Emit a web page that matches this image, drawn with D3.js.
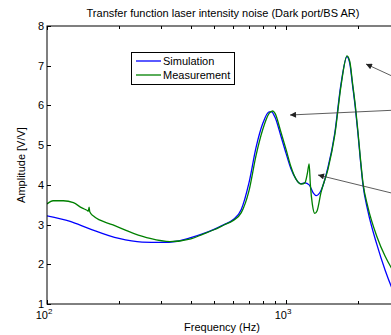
<!DOCTYPE html>
<html>
<head>
<meta charset="utf-8">
<script src="https://cdn.jsdelivr.net/npm/d3@7"></script>
<style>
  body { margin: 0; background: #fff; }
  svg { display: block; font-family: Arial, "Liberation Sans", sans-serif; }
</style>
</head>
<body>
<svg id="chart" width="391" height="335"></svg>
<script>
// values
const simFreq = [100, 125, 150, 200, 250, 300, 350, 400, 450, 500, 550, 600, 650, 700, 750, 800, 850, 870, 900, 950, 1000, 1050, 1100, 1150, 1200, 1250, 1300, 1340, 1400, 1500, 1600, 1700, 1800, 1850, 1900, 1950, 2000, 2050, 2100, 2200, 2400, 2600, 2800, 3000];
const simAmp  = [3.22, 3.08, 2.90, 2.65, 2.56, 2.55, 2.58, 2.67, 2.77, 2.88, 3.00, 3.12, 3.38, 4.05, 4.95, 5.55, 5.84, 5.84, 5.7, 5.25, 4.8, 4.4, 4.15, 4.03, 4.05, 4.0, 3.8, 3.73, 3.85, 4.45, 5.3, 6.55, 7.23, 7.05, 6.5, 5.95, 5.3, 4.6, 4.0, 3.35, 2.5, 1.85, 1.35, 1.0];

const measFreq = [100, 106, 117, 129, 140, 147, 149, 150, 151, 156, 189, 230, 270, 327, 400, 450, 500, 550, 600, 650, 700, 750, 800, 850, 880, 900, 950, 1000, 1050, 1100, 1160, 1200, 1230, 1250, 1265, 1290, 1320, 1350, 1400, 1500, 1600, 1700, 1800, 1850, 1900, 1950, 2000, 2050, 2100, 2200, 2400, 2600, 2800, 3000];
const measAmp  = [3.52, 3.6, 3.6, 3.55, 3.42, 3.36, 3.34, 3.44, 3.32, 3.22, 2.99, 2.78, 2.65, 2.57, 2.64, 2.76, 2.87, 2.99, 3.1, 3.3, 3.85, 4.75, 5.4, 5.8, 5.86, 5.8, 5.35, 4.9, 4.45, 4.15, 4.02, 4.05, 4.3, 4.53, 4.0, 3.5, 3.28, 3.35, 3.8, 4.4, 5.25, 6.5, 7.25, 7.1, 6.55, 6.0, 5.35, 4.65, 4.05, 3.45, 2.7, 2.2, 1.85, 1.6];

const xTickMajor = [100, 1000];
const xTickMinor = [200, 300, 400, 500, 600, 700, 800, 900, 2000, 3000];
const yTicks = [1, 2, 3, 4, 5, 6, 7, 8];

const titleText = "Transfer function laser intensity noise (Dark port/BS AR)";
const xLabel = "Frequency (Hz)";
const yLabel = "Amplitude [V/V]";

const svg = d3.select("#chart");
const mLeft = 47, mRight = 400, mTop = 26, mBottom = 304;

const x = d3.scaleLog().domain([100, 3000]).range([mLeft, mRight]);
const y = d3.scaleLinear().domain([1, 8]).range([mBottom, mTop]);

const defs = svg.append("defs");
defs.append("clipPath").attr("id", "clip")
  .append("rect").attr("x", mLeft).attr("y", mTop).attr("width", mRight - mLeft).attr("height", mBottom - mTop);

defs.append("marker")
  .attr("id", "head").attr("viewBox", "0 0 10 10").attr("refX", 10).attr("refY", 5)
  .attr("markerWidth", 7).attr("markerHeight", 6).attr("orient", "auto")
  .attr("markerUnits", "userSpaceOnUse")
  .append("path").attr("d", "M0,0L10,5L0,10z").attr("fill", "#222");

// curves
const line = d3.line().x(d => x(d[0])).y(d => y(d[1])).curve(d3.curveMonotoneX);
const g = svg.append("g").attr("clip-path", "url(#clip)");
g.append("path").datum(d3.zip(simFreq, simAmp))
  .attr("d", line).attr("fill", "none").attr("stroke", "#0000ff").attr("stroke-width", 1.3);
g.append("path").datum(d3.zip(measFreq, measAmp))
  .attr("d", line).attr("fill", "none").attr("stroke", "#008000").attr("stroke-width", 1.3);

// box
svg.append("rect").attr("x", mLeft).attr("y", mTop).attr("width", mRight - mLeft).attr("height", mBottom - mTop)
  .attr("fill", "none").attr("stroke", "#000").attr("stroke-width", 1);

// x ticks (inward, bottom and top)
const ax = svg.append("g").attr("stroke", "#000").attr("stroke-width", 1);
xTickMajor.concat(xTickMinor).forEach(f => {
  const len = xTickMajor.includes(f) ? 4 : 3;
  const px = Math.round(x(f)) + 0.5;
  ax.append("line").attr("x1", px).attr("x2", px).attr("y1", mBottom).attr("y2", mBottom - len);
  ax.append("line").attr("x1", px).attr("x2", px).attr("y1", mTop).attr("y2", mTop + len);
});
yTicks.forEach(v => {
  const py = Math.round(y(v)) + 0.5;
  ax.append("line").attr("x1", mLeft).attr("x2", mLeft + 4).attr("y1", py).attr("y2", py);
});

// tick labels
yTicks.forEach(v => {
  svg.append("text").attr("x", 44).attr("y", y(v) + 4).attr("text-anchor", "end")
    .attr("font-size", 11).text(v);
});
xTickMajor.forEach(f => {
  const t = svg.append("text").attr("x", x(f) - 3).attr("y", mBottom + 15).attr("text-anchor", "middle")
    .attr("font-size", 11);
  t.append("tspan").text("10");
  t.append("tspan").attr("dy", -5).attr("font-size", 8).text(Math.log10(f));
});

// labels
svg.append("text").attr("x", 223).attr("y", 17).attr("text-anchor", "middle").attr("font-size", 11).text(titleText);
svg.append("text").attr("x", 222).attr("y", 331).attr("text-anchor", "middle").attr("font-size", 11).text(xLabel);
svg.append("text").attr("transform", "translate(25,165) rotate(-90)").attr("text-anchor", "middle")
  .attr("font-size", 11).text(yLabel);

// legend
const lg = svg.append("g");
lg.append("rect").attr("x", 131.5).attr("y", 52.5).attr("width", 103).attr("height", 32)
  .attr("fill", "#fff").attr("stroke", "#000");
[["Simulation", "#0000ff", 61], ["Measurement", "#008000", 75]].forEach(([name, c, yy]) => {
  lg.append("line").attr("x1", 136).attr("x2", 161).attr("y1", yy).attr("y2", yy).attr("stroke", c).attr("stroke-width", 1.3);
  lg.append("text").attr("x", 163).attr("y", yy + 4).attr("font-size", 11).text(name);
});

// annotation arrows (tails run off the right edge)
const arrows = [[420, 89, 366, 64], [420, 109, 290, 115], [420, 200, 318, 175]];
arrows.forEach(a => {
  svg.append("line").attr("x1", a[0]).attr("y1", a[1]).attr("x2", a[2]).attr("y2", a[3])
    .attr("stroke", "#333").attr("stroke-width", 0.8).attr("marker-end", "url(#head)");
});
</script>
</body>
</html>
